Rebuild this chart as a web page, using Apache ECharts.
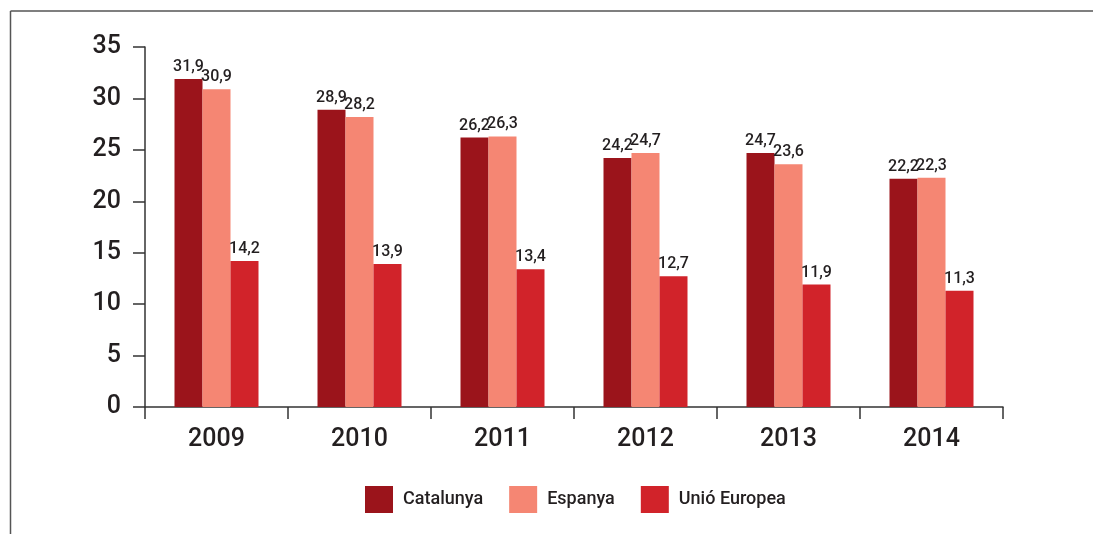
<!DOCTYPE html>
<html>
<head>
<meta charset="utf-8">
<style>
  html, body { margin: 0; padding: 0; background: #fff; }
  #chart { width: 1093px; height: 534px; }
</style>
<script src="https://cdn.jsdelivr.net/npm/echarts@6/dist/echarts.min.js"></script>
</head>
<body>
<div id="chart"></div>
<script>
// Data
const years = ['2009', '2010', '2011', '2012', '2013', '2014'];
const catalunya = [31.9, 28.9, 26.2, 24.2, 24.7, 22.2];
const espanya = [30.9, 28.2, 26.3, 24.7, 23.6, 22.3];
const unioEuropea = [14.2, 13.9, 13.4, 12.7, 11.9, 11.3];
const seriesNames = ['Catalunya', 'Espanya', 'Unió Europea'];
const seriesColors = ['#9b141b', '#f58673', '#d1232a'];

const chart = echarts.init(document.getElementById('chart'));
const font = 'Roboto, "DejaVu Sans", sans-serif';

function makeSeries(name, data, color) {
    return {
        name: name,
        type: 'bar',
        data: data,
        barWidth: 28,
        barGap: '0%',
        itemStyle: { color: color },
        label: {
            show: true,
            position: 'top',
            distance: 4,
            color: '#231f20',
            fontFamily: font,
            fontSize: 16,
            fontWeight: 500,
            formatter: p => p.value.toFixed(1).replace('.', ',')
        }
    };
}

const option = {
    animation: false,
    textStyle: { fontFamily: font },
    grid: { left: 145, right: 90, top: 47, bottom: 127 },
    legend: {
        left: 360,
        top: 481,
        itemWidth: 28,
        itemHeight: 27,
        itemGap: 26,
        icon: 'rect',
        textStyle: { fontSize: 18, fontWeight: 500, color: '#231f20', padding: [5, 0, 0, 5] },
        data: seriesNames
    },
    xAxis: {
        type: 'category',
        data: years,
        axisLine: { lineStyle: { color: '#333', width: 1.5 } },
        axisTick: { show: true, length: 12, lineStyle: { color: '#333', width: 1.5 } },
        axisLabel: { fontSize: 25, fontWeight: 500, color: '#231f20', margin: 20 }
    },
    yAxis: {
        type: 'value',
        min: 0,
        max: 35,
        interval: 5,
        splitLine: { show: false },
        axisLine: { show: true, lineStyle: { color: '#333', width: 1.5 } },
        axisTick: { show: true, length: 12, lineStyle: { color: '#333', width: 1.5 } },
        axisLabel: { fontSize: 25, fontWeight: 500, color: '#231f20', margin: 24 }
    },
    graphic: [
        { type: 'line', shape: { x1: 10.5, y1: 11, x2: 1093, y2: 11 }, style: { stroke: '#555', lineWidth: 1.5 } },
        { type: 'line', shape: { x1: 10.5, y1: 11, x2: 10.5, y2: 534 }, style: { stroke: '#555', lineWidth: 1.5 } }
    ],
    series: [
        makeSeries(seriesNames[0], catalunya, seriesColors[0]),
        makeSeries(seriesNames[1], espanya, seriesColors[1]),
        makeSeries(seriesNames[2], unioEuropea, seriesColors[2])
    ]
};

chart.setOption(option);
</script>
</body>
</html>
